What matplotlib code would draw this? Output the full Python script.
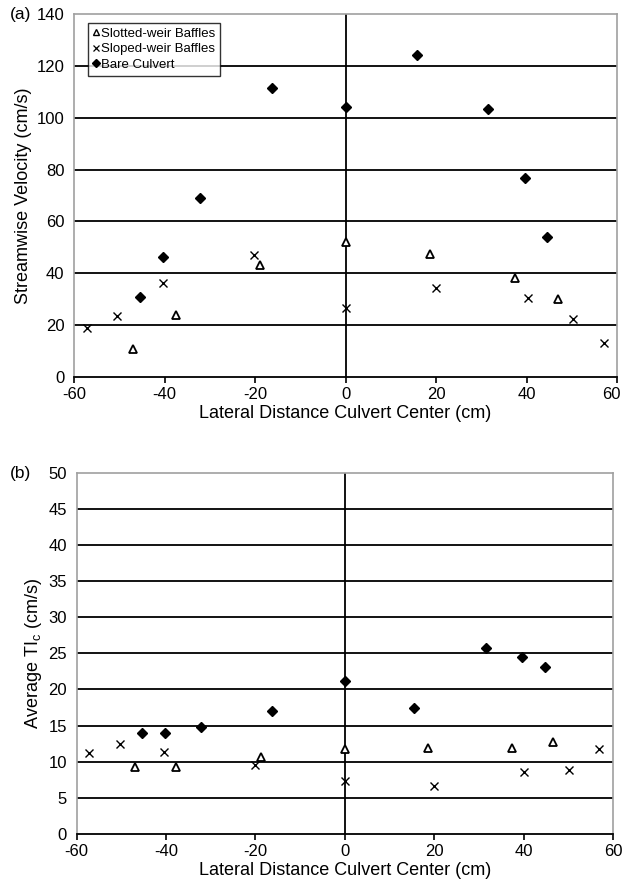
import matplotlib
matplotlib.use("Agg")
import matplotlib.pyplot as plt
import matplotlib.transforms as mtransforms
from matplotlib.lines import Line2D

plt.rcParams['font.family'] = ['Liberation Sans', 'DejaVu Sans']
plt.rcParams['mathtext.fontset'] = 'custom'
plt.rcParams['mathtext.rm'] = 'Liberation Sans'
plt.rcParams['axes.unicode_minus'] = False

# ---- Panel (a): streamwise velocity (cm/s) ----
a_bare_x = [-45.4, -40.3, -32.2, -16.2, 0.0, 15.7, 31.6, 39.7, 44.6]
a_bare_y = [30.7, 46.2, 69.0, 111.5, 104.0, 124.2, 103.5, 76.7, 54.0]

a_slot_x = [-47.0, -37.5, -18.9, 0.0, 18.7, 37.5, 47.0]
a_slot_y = [10.9, 24.0, 43.1, 52.1, 47.4, 38.2, 30.0]

a_slope_x = [-57.2, -50.4, -40.3, -20.2, 0.0, 20.1, 40.3, 50.3, 57.1]
a_slope_y = [18.8, 23.6, 36.3, 46.9, 26.6, 34.3, 30.5, 22.3, 13.0]

# ---- Panel (b): average TIc (cm/s) ----
b_bare_x = [-45.3, -40.3, -32.2, -16.4, 0.0, 15.5, 31.5, 39.7, 44.7]
b_bare_y = [14.0, 14.0, 14.85, 17.0, 21.2, 17.4, 25.7, 24.5, 23.1]

b_slot_x = [-47.0, -37.7, -18.75, 0.0, 18.5, 37.4, 46.6]
b_slot_y = [9.3, 9.3, 10.6, 11.7, 11.9, 11.9, 12.7]

b_slope_x = [-57.2, -50.4, -40.5, -20.2, 0.0, 19.9, 40.1, 50.1, 56.8]
b_slope_y = [11.2, 12.4, 11.3, 9.5, 7.3, 6.6, 8.6, 8.9, 11.7]

x_ticks = [-60, -40, -20, 0, 20, 40, 60]
a_yticks = [0, 20, 40, 60, 80, 100, 120, 140]
b_yticks = [0, 5, 10, 15, 20, 25, 30, 35, 40, 45, 50]

labels = ['Slotted-weir Baffles', 'Sloped-weir Baffles', 'Bare Culvert']

W, H = 623, 888
fig = plt.figure(figsize=(W / 100, H / 100), dpi=100)

axA = fig.add_axes([74 / W, 1 - 377 / H, 543 / W, 363 / H])
axB = fig.add_axes([76.7 / W, 1 - 834 / H, (613 - 76.7) / W, 361.3 / H])

GRAY = '#a0a0a0'


def style(ax, yticks, ymax):
    ax.set_xlim(-60, 60)
    ax.set_ylim(0, ymax)
    ax.set_xticks(x_ticks)
    ax.set_yticks(yticks)
    for y in yticks[1:-1]:
        ax.axhline(y, color='black', lw=1.3, zorder=1)
    ax.axvline(0, color='black', lw=1.3, zorder=1)
    for s in ['left', 'top', 'right']:
        ax.spines[s].set_color(GRAY)
        ax.spines[s].set_linewidth(1.2)
    ax.spines['bottom'].set_color('black')
    ax.spines['bottom'].set_linewidth(1.3)
    ax.tick_params(axis='x', direction='out', length=4, width=1.2,
                   color='black', labelsize=12, pad=3)
    ax.tick_params(axis='y', length=0, labelsize=12, pad=7)
    ax.set_xlabel('Lateral Distance Culvert Center (cm)', fontsize=13, labelpad=2)


def plot_series(ax, sx, sy, tx, ty, bx, by):
    ax.plot(tx, ty, linestyle='none', marker='^', ms=6.3, mfc='white',
            mec='black', mew=1.3, zorder=3)
    ax.plot(sx, sy, linestyle='none', marker='x', ms=5.3, color='black',
            mew=1.0, zorder=3)
    ax.plot(bx, by, linestyle='none', marker='D', ms=4.8, color='black',
            zorder=3)


style(axA, a_yticks, 140)
plot_series(axA, a_slope_x, a_slope_y, a_slot_x, a_slot_y, a_bare_x, a_bare_y)
axA.set_ylabel('Streamwise Velocity (cm/s)', fontsize=13, labelpad=3)

style(axB, b_yticks, 50)
plot_series(axB, b_slope_x, b_slope_y, b_slot_x, b_slot_y, b_bare_x, b_bare_y)
axB.set_ylabel('Average TI$_\\mathregular{c}$ (cm/s)', fontsize=13, labelpad=3)

# keep the right-most tick label of panel (a) inside the figure
fig.canvas.draw()
last = axA.get_xticklabels()[-1]
last.set_transform(last.get_transform() + mtransforms.ScaledTranslation(-6 / 100, 0, fig.dpi_scale_trans))

handles = [
    Line2D([], [], linestyle='none', marker='^', ms=5, mfc='white', mec='black', mew=1.0),
    Line2D([], [], linestyle='none', marker='x', ms=4.5, color='black', mew=0.9),
    Line2D([], [], linestyle='none', marker='D', ms=4, color='black'),
]
leg = axA.legend(handles, labels, loc='upper left', bbox_to_anchor=(0.025, 0.975),
                 fontsize=9.5, frameon=True, fancybox=False, handlelength=0.6,
                 handletextpad=0.1, borderpad=0.35, labelspacing=0.25,
                 borderaxespad=0.0)
leg.get_frame().set_edgecolor('black')
leg.get_frame().set_linewidth(1.0)

fig.text(10 / W, 1 - 14 / H, '(a)', fontsize=12.5, va='center', ha='left')
fig.text(10 / W, 1 - 473 / H, '(b)', fontsize=12.5, va='center', ha='left')

fig.savefig('out.png', dpi=100)
